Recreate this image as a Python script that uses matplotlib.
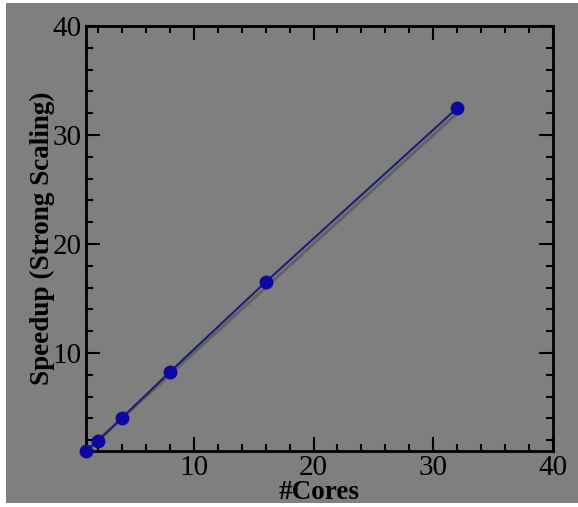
import matplotlib
matplotlib.use("Agg")
import matplotlib.pyplot as plt
from matplotlib.patches import Rectangle
from matplotlib.ticker import MultipleLocator

# data
cores = [1, 2, 4, 8, 16, 32]
speedup = [1.0, 1.92, 4.03, 8.25, 16.5, 32.47]
ideal = [1, 32]

bg = '#7f7f7f'
plt.rcParams['font.family'] = ['Liberation Serif', 'DejaVu Serif']

fig = plt.figure(figsize=(5.78, 5.07), dpi=100, facecolor='white')
# grey backdrop, leaves a thin white margin left/top/bottom like the original
fig.patches.append(Rectangle((6 / 578, 4 / 507), 1 - 6 / 578, 1 - 7 / 507,
                             transform=fig.transFigure, facecolor=bg,
                             edgecolor='none', zorder=-5))

ax = fig.add_axes([86 / 578, 1 - 451 / 507, (553 - 86) / 578, (451 - 26) / 507])
ax.set_facecolor(bg)

# ideal scaling in dark grey, measured speedup on top
ax.plot(ideal, ideal, color='#626262', linewidth=2.2, zorder=2)
ax.plot(cores, speedup, '-o', color='#1c1c7a', linewidth=1.5,
        markerfacecolor='#0a0aa0', markeredgecolor='#0a0aa0', markersize=9,
        zorder=3, clip_on=False)

ax.set_xlim(1, 40)
ax.set_ylim(1, 40)
ax.xaxis.set_major_locator(MultipleLocator(10))
ax.xaxis.set_minor_locator(MultipleLocator(2))
ax.yaxis.set_major_locator(MultipleLocator(10))
ax.yaxis.set_minor_locator(MultipleLocator(2))

ax.tick_params(which='both', direction='in', top=True, right=True,
               width=1.5, colors='black', labelsize=21)
ax.tick_params(which='major', length=10, pad=3)
ax.tick_params(which='minor', length=5)
for s in ax.spines.values():
    s.set_linewidth(2)

ax.set_xlabel('#Cores', fontsize=19.5, fontweight='bold', labelpad=-1)
ax.set_ylabel('Speedup (Strong Scaling)', fontsize=19.5, fontweight='bold', labelpad=-2)

fig.savefig('out.png', dpi=100, facecolor=fig.get_facecolor())
